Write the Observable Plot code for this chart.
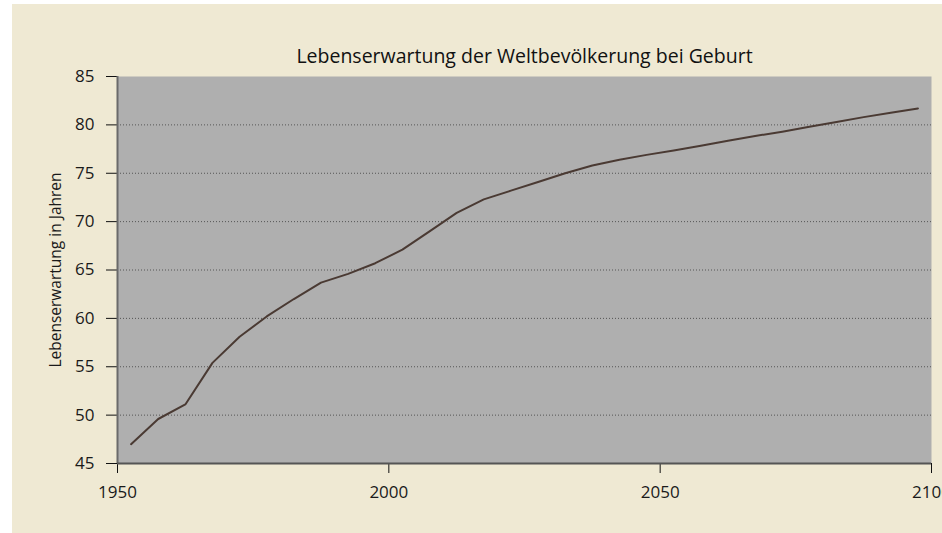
<!DOCTYPE html>
<html>
<head>
<meta charset="utf-8">
<script src="https://cdn.jsdelivr.net/npm/d3@7"></script>
<script src="https://cdn.jsdelivr.net/npm/@observablehq/plot@0.6"></script>
<style>
  html, body { margin: 0; padding: 0; background: #ffffff; width: 942px; height: 533px; overflow: hidden; }
  #panel { position: absolute; left: 12px; top: 4px; right: 0; bottom: 0; background: #efe9d3; }
  #chart { position: absolute; left: 0; top: 0; }
</style>
</head>
<body>
<div id="panel"></div>
<div id="chart"></div>
<script>
const title = "Lebenserwartung der Weltbevölkerung bei Geburt";
const yLabel = "Lebenserwartung in Jahren";
const years = [1952.5, 1957.5, 1962.5, 1967.5, 1972.5, 1977.5, 1982.5, 1987.5, 1992.5, 1997.5,
               2002.5, 2007.5, 2012.5, 2017.5, 2022.5, 2027.5, 2032.5, 2037.5, 2042.5, 2047.5,
               2052.5, 2057.5, 2062.5, 2067.5, 2072.5, 2077.5, 2082.5, 2087.5, 2092.5, 2097.5];
const lifeExpectancy = [47.0, 49.6, 51.1, 55.4, 58.1, 60.2, 62.0, 63.7, 64.6, 65.7,
                        67.1, 69.0, 70.9, 72.3, 73.2, 74.1, 75.0, 75.8, 76.4, 76.9,
                        77.35, 77.85, 78.35, 78.85, 79.3, 79.8, 80.3, 80.8, 81.25, 81.7];
const xTicks = [1950, 2000, 2050, 2100];
const yTicks = [45, 50, 55, 60, 65, 70, 75, 80, 85];
const gridValues = [50, 55, 60, 65, 70, 75, 80];

const data = years.map((yr, i) => ({year: yr, value: lifeExpectancy[i]}));

const chart = Plot.plot({
  width: 942,
  height: 533,
  marginLeft: 117,
  marginRight: 11,
  marginTop: 76,
  marginBottom: 70,
  style: {background: "transparent", fontFamily: "'Open Sans', sans-serif", fontSize: "17px", color: "#1a1a1a", overflow: "visible"},
  x: {domain: [1950, 2100]},
  y: {domain: [45, 85]},
  marks: [
    Plot.frame({fill: "#afafaf", stroke: null}),
    Plot.ruleY(gridValues, {stroke: "#555", strokeWidth: 1, strokeDasharray: "1,2"}),
    Plot.axisX({ticks: xTicks, tickFormat: d => String(d), tickSize: 10, tickPadding: 12, label: null, stroke: "#111", fontSize: 17}),
    Plot.axisY({ticks: yTicks, tickSize: 11, tickPadding: 12, label: yLabel, labelAnchor: "center", labelArrow: "none", labelOffset: 68, stroke: "#111", fontSize: 17}),
    Plot.ruleX([1950], {stroke: "#6a6a6a", strokeWidth: 2}),
    Plot.ruleY([45], {stroke: "#555", strokeWidth: 2}),
    Plot.line(data, {x: "year", y: "value", stroke: "#4a3a33", strokeWidth: 2}),
    Plot.text([title], {frameAnchor: "top", dy: -27, fontSize: 19.5, fontFamily: "'Open Sans', sans-serif", fill: "#111"})
  ]
});
// keep the y-axis title at its own size
chart.querySelectorAll("text").forEach(t => { if (t.textContent === yLabel) t.setAttribute("font-size", "15.5"); });
document.getElementById("chart").appendChild(chart);
</script>
</body>
</html>
